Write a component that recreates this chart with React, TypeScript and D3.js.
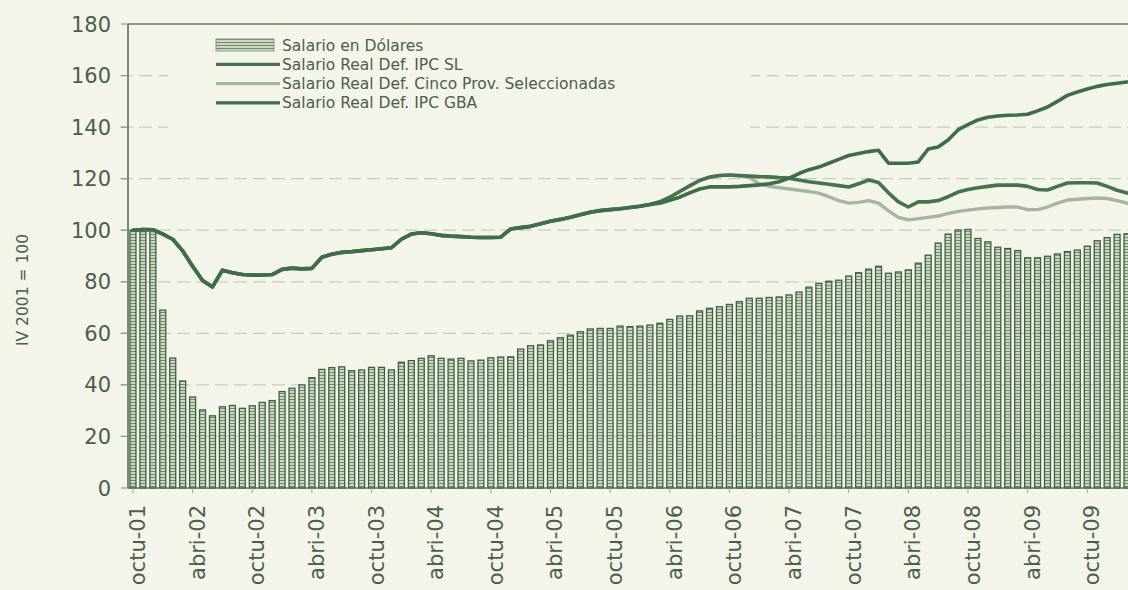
import React from 'react';
import * as d3 from 'd3';

// monthly series, octubre 2001 .. febrero 2010 (IV 2001 = 100)
const salarioDolares = [
  100, 99.5, 99.5, 69, 50.4, 41.5, 35.3, 30.3, 28, 31.5,
  32, 30.9, 31.9, 33.2, 33.9, 37.4, 38.7, 40, 42.8, 46,
  46.7, 47, 45.5, 45.8, 46.8, 46.8, 45.8, 48.8, 49.4, 50.3,
  51.3, 50.3, 50, 50.3, 49.3, 49.6, 50.5, 50.8, 50.9, 53.9,
  55.2, 55.5, 57.1, 58.3, 59.3, 60.6, 61.7, 61.9, 61.9, 62.8,
  62.6, 62.8, 63.2, 63.9, 65.4, 66.7, 66.8, 68.7, 69.7, 70.3,
  71.2, 72.3, 73.6, 73.6, 73.9, 74.1, 74.9, 76, 77.9, 79.4,
  80.2, 80.6, 82.2, 83.5, 84.9, 86, 83.3, 83.8, 84.6, 87.2,
  90.3, 95, 98.5, 100.1, 100.3, 96.8, 95.5, 93.4, 92.9, 92.1,
  89.3, 89.3, 89.9, 90.8, 91.7, 92.3, 93.8, 95.9, 97.1, 98.4,
  98.6,
];

const realIpcSL = [
  100, 100.3, 100.2, 98.5, 96.5, 92, 86, 80.5, 78, 84.5,
  83.5, 82.8, 82.6, 82.6, 82.8, 84.8, 85.3, 85, 85.2, 89.5,
  90.7, 91.4, 91.7, 92.1, 92.4, 92.8, 93.2, 96.5, 98.5, 99,
  98.6, 98, 97.7, 97.5, 97.3, 97.2, 97.2, 97.3, 100.5, 101,
  101.5, 102.5, 103.5, 104.2, 105, 106, 107, 107.6, 108, 108.3,
  108.8, 109.3, 110, 111, 112.8, 115, 117.2, 119.3, 120.6, 121.2,
  121.4, 121.2, 121, 120.8, 120.7, 120.4, 120.2, 119.5, 118.8, 118.3,
  117.8, 117.3, 116.8, 118, 119.5, 118.5, 114.5, 111, 109, 111,
  111, 111.5, 113, 114.8, 115.8, 116.5, 117, 117.5, 117.5, 117.5,
  117, 115.8, 115.6, 117, 118.3, 118.4, 118.4, 118.3, 117, 115.5,
  114.4,
];

const realCincoProv = [
  100, 100.3, 100.2, 98.5, 96.5, 92, 86, 80.5, 78, 84.5,
  83.5, 82.8, 82.6, 82.6, 82.8, 84.8, 85.3, 85, 85.2, 89.5,
  90.7, 91.4, 91.7, 92.1, 92.4, 92.8, 93.2, 96.5, 98.5, 99,
  98.6, 98, 97.7, 97.5, 97.3, 97.2, 97.2, 97.3, 100.5, 101,
  101.5, 102.5, 103.5, 104.2, 105, 106, 107, 107.6, 108, 108.3,
  108.8, 109.3, 110, 111, 112.8, 115, 117.2, 119.3, 120.6, 121.2,
  121.4, 121, 120.5, 118, 117, 116.5, 116, 115.5, 115, 114.4,
  113, 111.5, 110.5, 110.8, 111.5, 110.5, 107.5, 105, 104, 104.5,
  105, 105.5, 106.5, 107.3, 107.8, 108.3, 108.6, 108.8, 109, 109,
  108, 108, 109, 110.5, 111.7, 112, 112.3, 112.5, 112.3, 111.5,
  110.5,
];

const realIpcGBA = [
  100, 100.3, 100.2, 98.5, 96.5, 92, 86, 80.5, 78, 84.5,
  83.5, 82.8, 82.6, 82.6, 82.8, 84.8, 85.3, 85, 85.2, 89.5,
  90.7, 91.4, 91.7, 92.1, 92.4, 92.8, 93.2, 96.5, 98.5, 99,
  98.6, 98, 97.7, 97.5, 97.3, 97.2, 97.2, 97.3, 100.5, 101,
  101.5, 102.5, 103.5, 104.2, 105, 106, 107, 107.6, 108, 108.3,
  108.8, 109.3, 110, 110.5, 111.6, 112.8, 114.5, 116, 116.8, 116.8,
  116.8, 117, 117.3, 117.6, 118, 118.8, 120.2, 122, 123.5, 124.5,
  126, 127.5, 129, 129.8, 130.5, 131, 126, 126, 126, 126.5,
  131.5, 132.3, 135, 138.9, 141, 142.8, 143.8, 144.3, 144.6, 144.7,
  145, 146.3, 147.8, 150, 152.3, 153.6, 154.8, 155.8, 156.5, 157,
  157.5,
];

const tickLabels = [
  'octu-01', 'abri-02', 'octu-02', 'abri-03', 'octu-03', 'abri-04',
  'octu-04', 'abri-05', 'octu-05', 'abri-06', 'octu-06', 'abri-07',
  'octu-07', 'abri-08', 'octu-08', 'abri-09', 'octu-09',
];
const yTicks = [0, 20, 40, 60, 80, 100, 120, 140, 160, 180];

const legendItems = [
  'Salario en Dólares',
  'Salario Real Def. IPC SL',
  'Salario Real Def. Cinco Prov. Seleccionadas',
  'Salario Real Def. IPC GBA',
];

const W = 1128;
const H = 590;
const BG = '#f3f4ea';
const TEXT = '#4b5f4b';
const font = '"DejaVu Sans", Verdana, sans-serif';

export default function App() {
  const months = d3.range(salarioDolares.length);
  const x = d3.scaleBand<number>().domain(months).range([128, 1132]).paddingInner(0.4).paddingOuter(0.2);
  const y = d3.scaleLinear().domain([0, 180]).range([488, 24]);
  const cx = (i: number) => (x(i) as number) + x.bandwidth() / 2;

  const mkLine = d3.line<number>().x((_, i) => cx(i)).y((d) => y(d));

  const series = [
    { data: realCincoProv, color: '#a6b5a0', width: 3.4 },
    { data: realIpcSL, color: '#46724c', width: 3.6 },
    { data: realIpcGBA, color: '#3f6d47', width: 3.6 },
  ];
  const legendColors = ['', '#46724c', '#a6b5a0', '#3f6d47'];

  return (
    <div style={{ position: 'fixed', left: 0, top: 0 }}>
      <svg width={W} height={H} style={{ display: 'block' }}>
        <defs>
          <pattern id="hatch" width="4" height="3" patternUnits="userSpaceOnUse">
            <rect width="4" height="3" fill="#cbd8bf" />
            <line x1="0" y1="0.5" x2="4" y2="0.5" stroke="#6f8a6c" strokeWidth="1" />
          </pattern>
          <clipPath id="plot">
            <rect x={128} y={20} width={W - 128} height={470} />
          </clipPath>
        </defs>
        <rect width={W} height={H} fill={BG} />

        {/* gridlines */}
        {yTicks.filter((t) => t > 0 && t < 180).map((t) => (
          <line key={t} x1={120} x2={W} y1={y(t)} y2={y(t)} stroke="#c9ccbf" strokeWidth={1.3} strokeDasharray="13 6" />
        ))}

        {/* legend background */}
        <rect x={168} y={30} width={582} height={118} fill={BG} />

        {/* bars */}
        <g clipPath="url(#plot)">
          {salarioDolares.map((v, i) => (
            <rect key={i} x={x(i)} y={y(v)} width={x.bandwidth()} height={y(0) - y(v)}
              fill="url(#hatch)" stroke="#3f5f41" strokeWidth={1.3} />
          ))}
          {series.map((s, k) => (
            <path key={k} d={mkLine(s.data) || ''} fill="none" stroke={s.color} strokeWidth={s.width}
              strokeLinejoin="round" strokeLinecap="round" />
          ))}
        </g>

        {/* axes */}
        <line x1={128} x2={W} y1={24} y2={24} stroke="#6a7c64" strokeWidth={1.5} />
        <line x1={128} x2={128} y1={24} y2={488} stroke="#57705a" strokeWidth={1.6} />
        <line x1={128} x2={W} y1={488} y2={488} stroke="#57705a" strokeWidth={1.6} />
        {yTicks.map((t) => (
          <g key={t}>
            <line x1={121} x2={128} y1={y(t)} y2={y(t)} stroke="#8a9886" strokeWidth={1.2} />
            <text x={111} y={y(t)} dy="0.36em" textAnchor="end" fontFamily={font} fontSize={21} fill={TEXT}>
              {t}
            </text>
          </g>
        ))}
        {tickLabels.map((lab, k) => {
          const i = k * 6;
          const px = cx(i);
          return (
            <g key={lab}>
              <line x1={px} x2={px} y1={488} y2={493} stroke="#9aa795" strokeWidth={1} />
              <text transform={`translate(${px + 12},505) rotate(-90)`} textAnchor="end"
                fontFamily={font} fontSize={21} fill={TEXT}>
                {lab}
              </text>
            </g>
          );
        })}

        <text transform="translate(28,290) rotate(-90)" textAnchor="middle" fontFamily={font} fontSize={15.5} fill={TEXT}>
          IV 2001 = 100
        </text>

        {/* legend */}
        {legendItems.map((lab, k) => {
          const ly = 45 + k * 19.3;
          return (
            <g key={lab}>
              {k === 0 ? (
                <rect x={216} y={ly - 6} width={58} height={12} fill="url(#hatch)" stroke="#8a9a86" strokeWidth={1} />
              ) : (
                <line x1={216} x2={280} y1={ly} y2={ly} stroke={legendColors[k]} strokeWidth={3.2} />
              )}
              <text x={282} y={ly} dy="0.36em" fontFamily={font} fontSize={15.5} fill={TEXT}>
                {lab}
              </text>
            </g>
          );
        })}
      </svg>
    </div>
  );
}
